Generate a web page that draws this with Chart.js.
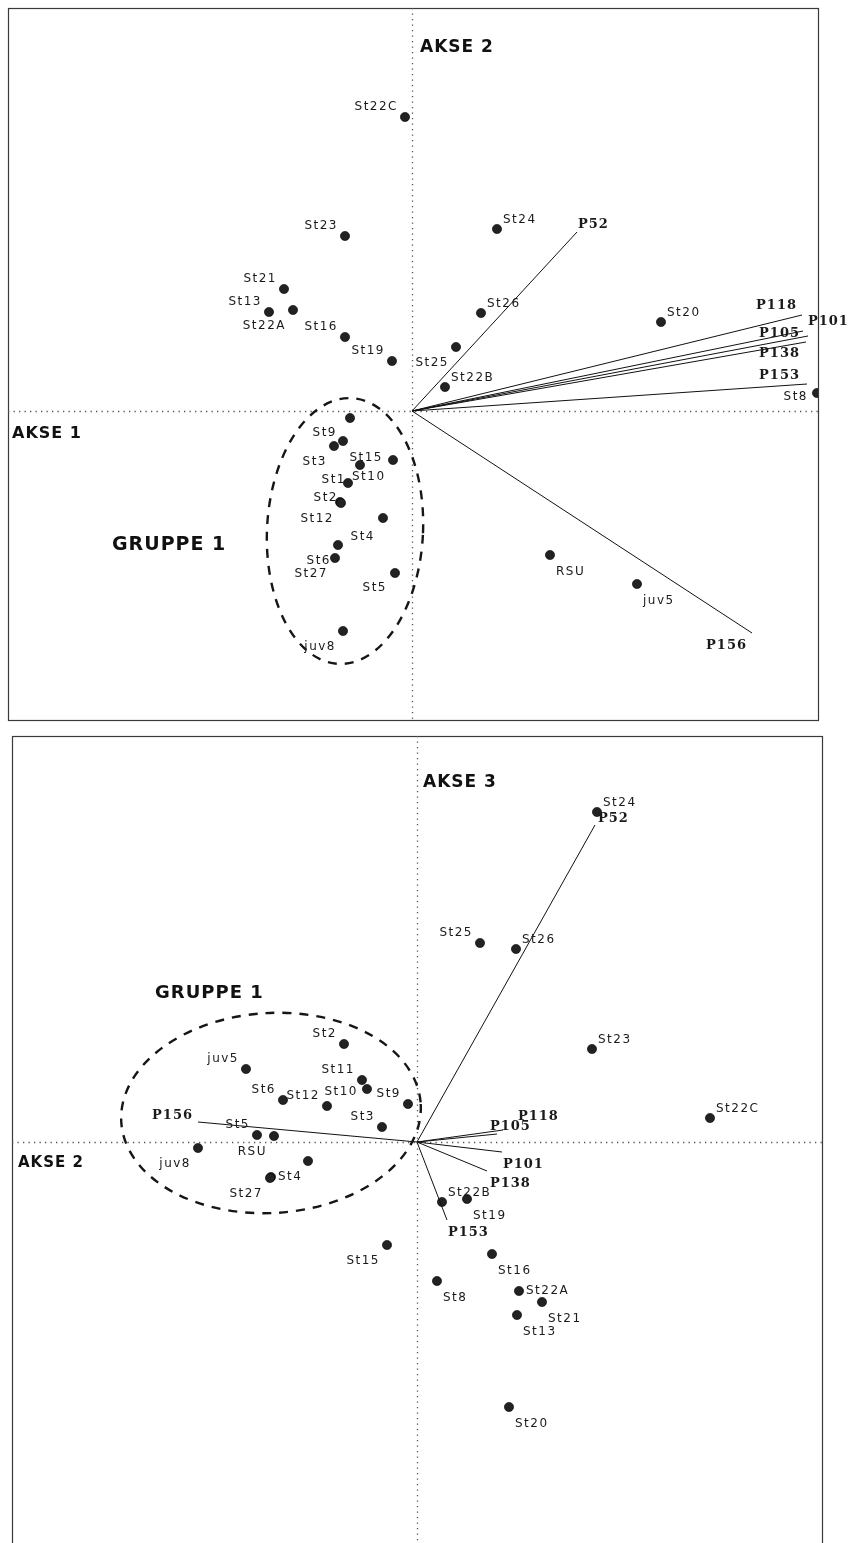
<!DOCTYPE html>
<html>
<head>
<meta charset="utf-8">
<title>Ordinasjon</title>
<script src="https://cdn.jsdelivr.net/npm/chart.js@4.4.1/dist/chart.umd.min.js"></script>
<style>
  html, body { margin: 0; padding: 0; background: #fff; width: 848px; height: 1543px; overflow: hidden; }
  canvas { position: absolute; left: 0; }
  #plotTop { top: 0; }
  #plotBottom { top: 728px; }
</style>
</head>
<body>
<canvas id="plotTop" width="848" height="728"></canvas>
<canvas id="plotBottom" width="848" height="830"></canvas>
<script>
// ---- panel 1: akse 1 (x) / akse 2 (y) ----
const topStations = ["St22C","St23","St24","St21","St13","St22A","St16","St19","St26","St25","St22B","St20","St8","RSU","juv5",
  "St11","St9","St3","St15","St10","St1","St2","St12","St4","St6","St27","St5","juv8"];
const topStX = [-0.07,-0.67,0.85,-1.28,-1.43,-1.19,-0.67,-0.20,0.69,0.44,0.33,2.49,4.05,1.38,2.25,
  -0.62,-0.69,-0.78,-0.19,-0.52,-0.64,-0.72,-0.71,-0.29,-0.74,-0.77,-0.17,-0.69];
const topStY = [2.94,1.75,1.82,1.22,0.99,1.01,0.74,0.50,0.98,0.64,0.24,0.89,0.18,-1.44,-1.73,
  -0.07,-0.30,-0.35,-0.49,-0.54,-0.72,-0.91,-0.92,-1.07,-1.34,-1.47,-1.62,-2.20];

const topSpecies = ["P52","P118","P105","P101","P138","P153","P156"];
const topSpX = [1.65,3.90,3.91,3.96,3.94,3.95,3.40];
const topSpY = [1.79,0.96,0.80,0.75,0.69,0.27,-2.22];

// ---- panel 2: akse 2 (x) / akse 3 (y) ----
const botStations = ["St24","St25","St26","St23","St22C","St2","juv5","St11","St10","St9","St6","St12","St3","St5","RSU","juv8",
  "St1","St4","St27","St22B","St19","St15","St16","St8","St22A","St21","St13","St20"];
const botStX = [1.80,0.63,0.99,1.75,2.93,-0.73,-1.71,-0.55,-0.50,-0.09,-1.34,-0.90,-0.35,-1.60,-1.43,-2.19,
  -1.09,-1.46,-1.47,0.25,0.50,-0.30,0.75,0.20,1.02,1.25,1.00,0.92];
const botStY = [3.30,1.99,1.93,0.93,0.24,0.98,0.73,0.62,0.53,0.38,0.42,0.36,0.15,0.07,0.06,-0.06,
  -0.19,-0.35,-0.36,-0.60,-0.57,-1.03,-1.12,-1.39,-1.49,-1.60,-1.73,-2.65];

const botSpecies = ["P52","P118","P105","P101","P138","P153","P156"];
const botSpX = [1.78,0.86,0.80,0.85,0.70,0.30,-2.19];
const botSpY = [3.17,0.12,0.08,-0.10,-0.29,-0.78,0.20];

// label placement (align, dx, dy in px from the point)
const PLACE = {
  ul: ["right", -7, -10], ur: ["left", 6, -9],
  bl: ["right", -7, 16],  br: ["left", 6, 17],
  l:  ["right", -8, 0],   r:  ["left", 7, 0]
};

const topStLabel = {
  St22C: "ul", St23: "ul", St24: "ur", St21: "ul", St13: "ul", St22A: "bl", St16: "ul", St19: "ul",
  St26: "ur", St25: "bl", St22B: "ur", St20: "ur", St8: ["right", -9, 4], RSU: "br", juv5: "br",
  St11: null, St9: ["right", -6, -8], St3: "bl", St15: ["right", -10, -2], St10: ["left", -8, 12],
  St1: ["right", -2, -3], St2: ["right", -2, -4], St12: "bl", St4: ["right", -8, 19],
  St6: "bl", St27: "bl", St5: ["right", -8, 15], juv8: "bl"
};
const topSpLabel = {
  P52: ["left", 1, -7], P118: ["right", -5, -9], P105: ["right", -3, 3], P101: ["left", 0, -14],
  P138: ["right", -6, 12], P153: ["right", -7, -8], P156: ["right", -5, 13]
};

const botStLabel = {
  St24: "ur", St25: "ul", St26: "ur", St23: "ur", St22C: "ur", St2: "ul", juv5: "ul", St11: "ul",
  St10: ["right", -9, 3], St9: "ul", St6: "ul", St12: "ul", St3: "ul", St5: "ul", RSU: "bl",
  juv8: "bl", St1: null, St4: "r", St27: "bl", St22B: "ur", St19: "br", St15: "bl", St16: "br",
  St8: "br", St22A: "r", St21: "br", St13: "br", St20: "br"
};
const botSpLabel = {
  P52: ["left", 3, -6], P118: ["left", 15, -13], P105: ["left", -7, -7], P101: ["left", 1, 13],
  P138: ["left", 3, 13], P153: ["left", 1, 13], P156: ["right", -5, -6]
};

// hand-drawn group ring and notes (data units)
const topGroup = { cx: -0.67, cy: -1.20, rx: 0.78, ry: 1.33, rot: 0.05 };
const botGroup = { cx: -1.46, cy: 0.29, rx: 1.50, ry: 1.00, rot: -0.06 };

const topNotes = [
  { text: "AKSE 2", x: 0.08, y: 3.63, size: 17 },
  { text: "AKSE 1", x: -4.00, y: -0.23, size: 16 },
  { text: "GRUPPE 1", x: -3.00, y: -1.34, size: 19 }
];
const botNotes = [
  { text: "AKSE 3", x: 0.06, y: 3.59, size: 17 },
  { text: "AKSE 2", x: -3.99, y: -0.21, size: 15 },
  { text: "GRUPPE 1", x: -2.62, y: 1.49, size: 18 }
];

const ST_FONT = '12px "DejaVu Sans"';
const SP_FONT = 'bold 13px "DejaVu Serif"';
const NOTE_FONT = 'bold {s}px "DejaVu Sans"';

function resolvePlace(p) {
  if (!p) return null;
  return typeof p === "string" ? PLACE[p] : p;
}

function drawLabels(ctx, xs, ys, names, places, xScale, yScale, font, spacing) {
  ctx.font = font;
  ctx.letterSpacing = spacing;
  ctx.fillStyle = "#1a1a1a";
  ctx.textBaseline = "middle";
  names.forEach((name, i) => {
    const p = resolvePlace(places[name]);
    if (!p) return;
    const px = xScale.getPixelForValue(xs[i]);
    const py = yScale.getPixelForValue(ys[i]);
    ctx.textAlign = p[0];
    ctx.fillText(name, px + p[1], py + p[2]);
  });
}

function makeOverlay(cfg) {
  return {
    id: "biplotOverlay",
    beforeDatasetsDraw(chart) {
      const { ctx, chartArea: a, scales } = chart;
      const xs = scales.x, ys = scales.y;
      ctx.save();

      // frame
      ctx.strokeStyle = "#3a3a3a";
      ctx.lineWidth = 1.2;
      ctx.strokeRect(a.left + 0.5, a.top + 0.5, a.right - a.left, a.bottom - a.top);

      // dotted zero axes
      const x0 = Math.round(xs.getPixelForValue(0)) + 0.5;
      const y0 = Math.round(ys.getPixelForValue(0)) + 0.5;
      ctx.setLineDash([1.3, 4.2]);
      ctx.lineWidth = 1.3;
      ctx.strokeStyle = "#555";
      ctx.beginPath();
      ctx.moveTo(x0, a.top);
      ctx.lineTo(x0, a.bottom);
      ctx.moveTo(a.left, y0);
      ctx.lineTo(a.right, y0);
      ctx.stroke();

      // dashed group ring
      const g = cfg.group;
      const gx = xs.getPixelForValue(g.cx), gy = ys.getPixelForValue(g.cy);
      const rx = Math.abs(xs.getPixelForValue(g.cx + g.rx) - gx);
      const ry = Math.abs(ys.getPixelForValue(g.cy + g.ry) - gy);
      ctx.setLineDash([9, 8]);
      ctx.lineWidth = 2.4;
      ctx.strokeStyle = "#161616";
      ctx.beginPath();
      ctx.ellipse(gx, gy, rx, ry, g.rot, 0, Math.PI * 2);
      ctx.stroke();
      ctx.restore();
    },
    afterDatasetsDraw(chart) {
      const { ctx, scales } = chart;
      ctx.save();
      drawLabels(ctx, cfg.stX, cfg.stY, cfg.stations, cfg.stPlace, scales.x, scales.y, ST_FONT, "1.5px");
      drawLabels(ctx, cfg.spX, cfg.spY, cfg.species, cfg.spPlace, scales.x, scales.y, SP_FONT, "1px");

      ctx.letterSpacing = "1px";
      ctx.textAlign = "left";
      ctx.textBaseline = "middle";
      ctx.fillStyle = "#111";
      cfg.notes.forEach((n) => {
        ctx.font = NOTE_FONT.replace("{s}", n.size);
        ctx.fillText(n.text, scales.x.getPixelForValue(n.x), scales.y.getPixelForValue(n.y));
      });
      ctx.restore();
    }
  };
}

function createBiplot(canvasId, cfg) {
  const arrows = cfg.species.map((name, i) => ({
    type: "line",
    label: name,
    data: [{ x: 0, y: 0 }, { x: cfg.spX[i], y: cfg.spY[i] }],
    borderColor: "#111",
    borderWidth: 1,
    pointRadius: 0,
    fill: false,
    tension: 0
  }));

  const points = {
    type: "scatter",
    label: "stasjoner",
    data: cfg.stX.map((v, i) => ({ x: v, y: cfg.stY[i] })),
    pointRadius: 4.6,
    pointBackgroundColor: "#222",
    pointBorderColor: "#000",
    pointBorderWidth: 0.6
  };

  return new Chart(document.getElementById(canvasId), {
    type: "scatter",
    data: { datasets: [...arrows, points] },
    options: {
      responsive: false,
      animation: false,
      devicePixelRatio: 1,
      layout: { padding: cfg.padding },
      plugins: { legend: { display: false }, tooltip: { enabled: false } },
      scales: {
        x: { type: "linear", min: cfg.xMin, max: cfg.xMax, display: false },
        y: { type: "linear", min: cfg.yMin, max: cfg.yMax, display: false }
      }
    },
    plugins: [makeOverlay(cfg)]
  });
}

createBiplot("plotTop", {
  stations: topStations, stX: topStX, stY: topStY, stPlace: topStLabel,
  species: topSpecies, spX: topSpX, spY: topSpY, spPlace: topSpLabel,
  group: topGroup, notes: topNotes,
  xMin: -4.04, xMax: 4.06, yMin: -3.09, yMax: 4.03,
  padding: { left: 8, right: 30, top: 8, bottom: 8 }
});

createBiplot("plotBottom", {
  stations: botStations, stX: botStX, stY: botStY, stPlace: botStLabel,
  species: botSpecies, spX: botSpX, spY: botSpY, spPlace: botSpLabel,
  group: botGroup, notes: botNotes,
  xMin: -4.05, xMax: 4.05, yMin: -4.10, yMax: 4.06,
  padding: { left: 12, right: 26, top: 8, bottom: 6 }
});
</script>
</body>
</html>
